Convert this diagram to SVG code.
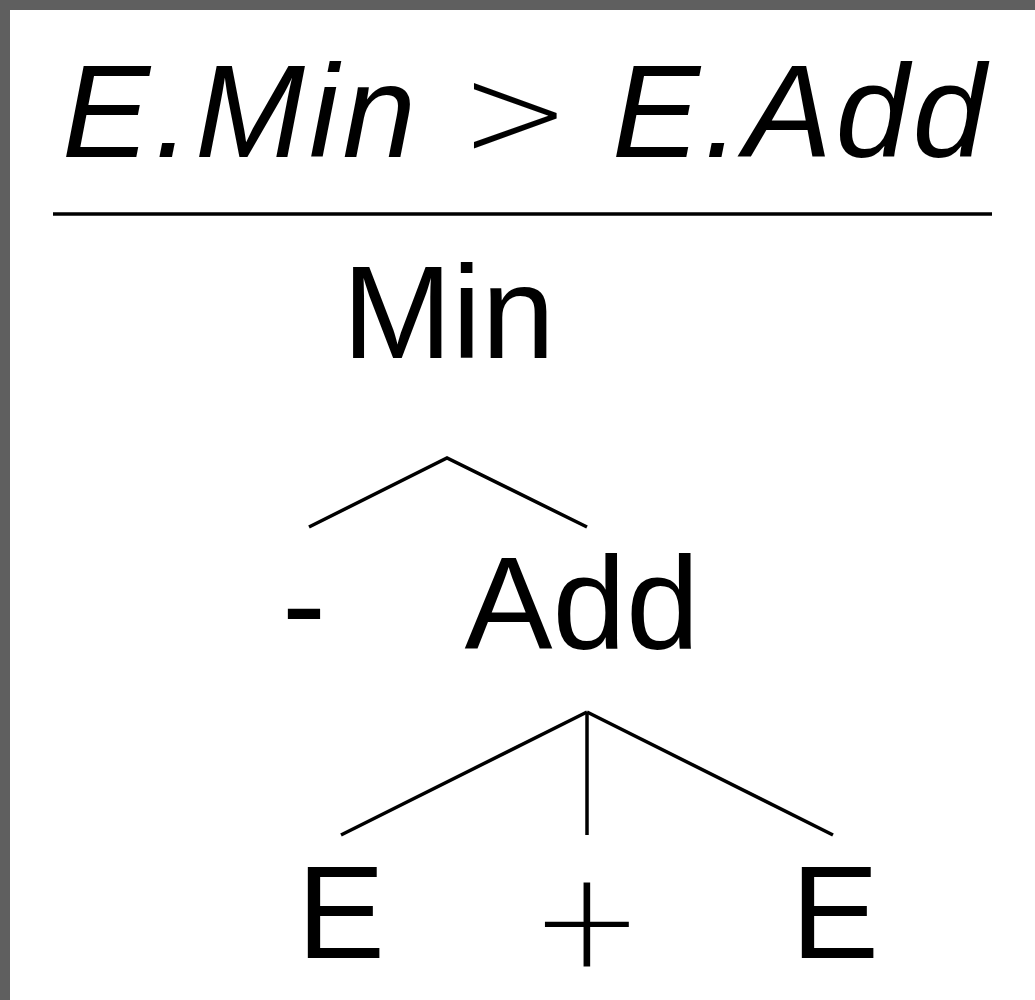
<svg xmlns="http://www.w3.org/2000/svg" width="1035" height="1000" viewBox="0 0 1035 1000">
<style>
.t{font-family:"Liberation Sans",Arial,sans-serif;font-size:132px;fill:#000}
.it{font-style:italic}
.m{font-family:"DejaVu Sans",sans-serif;font-weight:200}
.e{stroke:#000;stroke-width:3.5;fill:none;stroke-linecap:butt}
</style>
<rect x="0" y="0" width="1035" height="1000" fill="#5f5f5f"/>
<rect x="10" y="10" width="1025" height="990" fill="#fff"/>
<g id="rule">
<text class="t" y="157"><tspan class="it" x="62" textLength="354" lengthAdjust="spacing">E.Min</tspan><tspan class="m" x="460">&gt;</tspan><tspan class="it" x="612" textLength="374" lengthAdjust="spacing">E.Add</tspan></text>
<line class="e" x1="53" y1="214" x2="992" y2="214"/>
</g>
<g id="node-min"><text class="t" x="448.5" y="358" text-anchor="middle">Min</text></g>
<g id="node-minus"><text class="t" x="304" y="649" text-anchor="middle">-</text></g>
<g id="node-add"><text class="t" x="582" y="649" text-anchor="middle">Add</text></g>
<g id="node-e1"><text class="t" x="341" y="958" text-anchor="middle">E</text></g>
<g id="node-plus"><text class="t m" x="587" y="966" text-anchor="middle" style="font-size:134px">+</text></g>
<g id="node-e2"><text class="t" x="835" y="958" text-anchor="middle">E</text></g>
<g id="connectors">
<polyline class="e" points="309,527 447,458 587,527"/>
<line class="e" x1="587" y1="712" x2="341" y2="835"/>
<line class="e" x1="587" y1="712" x2="587" y2="835"/>
<line class="e" x1="587" y1="712" x2="833" y2="835"/>
</g>
</svg>
